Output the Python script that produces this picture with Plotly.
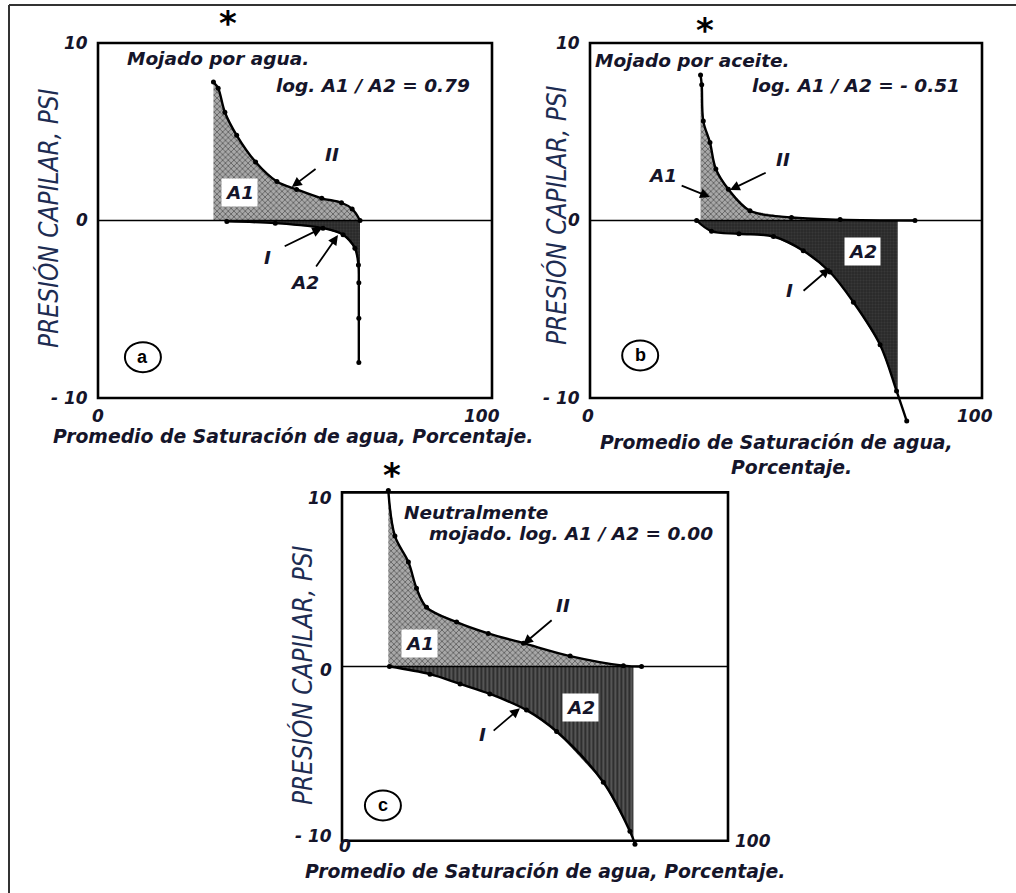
import numpy as np
import plotly.graph_objects as go

W, H = 1016, 893

# ---------------- data ----------------
# Panel a: Mojado por agua
a_II_x = [29.3, 30.5, 32.2, 35.2, 40.0, 45.4, 50.4, 56.8, 61.8, 64.5, 66.5]
a_II_y = [7.8, 7.45, 6.1, 4.8, 3.3, 2.2, 1.75, 1.25, 1.0, 0.65, 0.0]
a_I_x = [32.7, 45.0, 57.1, 62.2, 65.2, 66.1, 66.2, 66.2, 66.2]
a_I_y = [-0.05, -0.15, -0.43, -0.8, -1.56, -2.5, -3.5, -5.5, -8.0]
a_A2_edge = 66.5

# Panel b: Mojado por aceite
b_II_x = [28.2, 28.5, 28.9, 30.6, 32.1, 35.3, 40.8, 51.4, 63.8, 82.9]
b_II_y = [8.2, 7.65, 5.6, 4.4, 2.9, 1.76, 0.55, 0.17, 0.05, 0.0]
b_I_x = [27.2, 31.0, 38.0, 46.8, 54.4, 61.2, 67.2, 74.0, 78.2, 80.8]
b_I_y = [0.0, -0.6, -0.75, -0.9, -1.7, -2.9, -4.6, -7.0, -9.6, -11.3]
b_A2_edge = 78.5

# Panel c: Neutralmente mojado
c_II_x = [12.0, 13.7, 17.2, 19.3, 21.9, 29.7, 37.9, 47.0, 59.1, 72.9, 77.6]
c_II_y = [10.1, 7.5, 6.0, 4.5, 3.4, 2.55, 1.9, 1.34, 0.6, 0.05, 0.0]
c_I_x = [12.3, 22.8, 30.6, 38.3, 47.8, 55.6, 67.7, 74.6, 75.9]
c_I_y = [0.0, -0.44, -1.0, -1.57, -2.5, -3.73, -6.64, -9.46, -10.2]
c_A2_edge = 75.5

y_tick_text = ["10", "0", "- 10"]
x_tick_text = ["0", "100"]

titles = {
    "a": ["Mojado por agua.", "log. A1 / A2 = 0.79"],
    "b": ["Mojado por aceite.", "log. A1 / A2 = - 0.51"],
    "c": ["Neutralmente", "mojado. log. A1 / A2 = 0.00"],
}
x_title_a = "Promedio de Saturación de agua, Porcentaje."
x_title_b1 = "Promedio de Saturación de agua,"
x_title_b2 = "Porcentaje."
x_title_c = "Promedio de Saturación de agua, Porcentaje."
y_title = "PRESIÓN CAPILAR, PSI"

# ---------------- layout helpers ----------------
TXT = "#15152a"
YT_COL = "#1d2c52"
BOLD = dict(family="DejaVu Sans", size=18.5, color=TXT, weight="bold", style="italic")
XTF = dict(family="DejaVu Sans", size=18.8, color=TXT, weight="bold", style="italic")

PANELS = {
    "a": dict(px0=98, px100=492, py10=43, pym10=398, ax="x", ay="y", xr=[-10, 108]),
    "b": dict(px0=590, px100=982, py10=43, pym10=398, ax="x2", ay="y2", xr=[-6, 108]),
    "c": dict(px0=342, px100=728, py10=493, pym10=848, ax="x3", ay="y3", xr=[-10, 112]),
}
YR = [-13, 12]


def domains(p):
    XR = p["xr"]
    sx = (p["px100"] - p["px0"]) / 100
    sy = (p["pym10"] - p["py10"]) / 20
    xl = p["px0"] + XR[0] * sx
    xr = p["px0"] + XR[1] * sx
    yt = p["py10"] + (10 - YR[1]) * sy
    yb = p["py10"] + (10 - YR[0]) * sy
    return [max(0, xl / W), min(1, xr / W)], [max(0, 1 - yb / H), min(1, 1 - yt / H)]


fig = go.Figure()
shapes = []
annotations = []

A1_PAT = dict(shape="x", size=4, solidity=0.4, fgcolor="#1a1a1a", bgcolor="#a8a8a8")
A2_PAT = dict(shape=".", size=3, solidity=0.5, fgcolor="#000000", bgcolor="#404040")
A2_PAT_C = dict(shape="|", size=4, solidity=0.45, fgcolor="#000000", bgcolor="#555555")

curves = {
    "a": (a_II_x, a_II_y, a_I_x, a_I_y, a_A2_edge, A2_PAT),
    "b": (b_II_x, b_II_y, b_I_x, b_I_y, b_A2_edge, A2_PAT),
    "c": (c_II_x, c_II_y, c_I_x, c_I_y, c_A2_edge, A2_PAT_C),
}

for key, (IIx, IIy, Ix, Iy, edge, a2pat) in curves.items():
    p = PANELS[key]
    xa, ya = p["ax"], p["ay"]
    # A1 area: under curve II down to zero
    a1x = list(IIx) + [IIx[-1], IIx[0]]
    a1y = list(IIy) + [0, 0]
    fig.add_trace(go.Scatter(x=a1x, y=a1y, fill="toself", mode="none",
                             fillpattern=A1_PAT, fillcolor="#a8a8a8",
                             xaxis=xa, yaxis=ya, hoverinfo="skip", showlegend=False))
    # A2 area: between zero and curve I up to the edge
    xs = [x for x in Ix if x < edge]
    ys = list(Iy[:len(xs)])
    ye = float(np.interp(edge, Ix, Iy))
    a2x = [xs[0]] + xs + [edge, edge]
    a2y = [0] + ys + [ye, 0]
    fig.add_trace(go.Scatter(x=a2x, y=a2y, fill="toself", mode="none",
                             fillpattern=a2pat, fillcolor="#404040",
                             xaxis=xa, yaxis=ya, hoverinfo="skip", showlegend=False))
    # curves
    for cx, cy in ((IIx, IIy), (Ix, Iy)):
        fig.add_trace(go.Scatter(x=cx, y=cy, mode="lines+markers",
                                 line=dict(color="black", width=2.4, shape="spline", smoothing=1.0),
                                 marker=dict(color="black", size=5),
                                 cliponaxis=False,
                                 xaxis=xa, yaxis=ya, hoverinfo="skip", showlegend=False))

    # frame and zero line
    shapes.append(dict(type="rect", xref=xa, yref=ya, x0=0, x1=100, y0=-10, y1=10,
                       line=dict(color="black", width=2.6), layer="above"))
    shapes.append(dict(type="line", xref=xa, yref=ya, x0=0, x1=100, y0=0, y1=0,
                       line=dict(color="black", width=1.6), layer="above"))

# axes
layout_axes = {}
for i, key in enumerate(["a", "b", "c"]):
    dx, dy = domains(PANELS[key])
    sfx = "" if i == 0 else str(i + 1)
    layout_axes["xaxis" + sfx] = dict(domain=dx, range=PANELS[key]["xr"], visible=False, anchor="y" + sfx)
    layout_axes["yaxis" + sfx] = dict(domain=dy, range=YR, visible=False, anchor="x" + sfx)


def ann(xref, yref, x, y, text, xanchor="center", yanchor="middle", font=None, **kw):
    d = dict(xref=xref, yref=yref, x=x, y=y, text=text, showarrow=False,
             xanchor=xanchor, yanchor=yanchor, font=font or BOLD)
    d.update(kw)
    annotations.append(d)


def arrow(xref, yref, tail, head):
    annotations.append(dict(xref=xref, yref=yref, axref=xref, ayref=yref,
                            x=head[0], y=head[1], ax=tail[0], ay=tail[1], text="",
                            showarrow=True, arrowhead=2, arrowsize=1.1, arrowwidth=1.8,
                            arrowcolor="black", standoff=0))


TICKF = dict(family="DejaVu Sans", size=17, color=TXT, weight="bold", style="italic")
STAR = dict(family="DejaVu Sans", size=34, color="black", weight="bold")
LETTER = dict(family="Liberation Sans", size=18, color="black", weight="bold")
YTF = dict(family="Liberation Sans Narrow, DejaVu Sans Condensed, Liberation Sans",
           size=26, color=YT_COL, style="italic")

# per-panel text placement
place = {
    "a": dict(ytx=-2.0, yty=[10, 0, -10], xt=[(0, -11.0), (97.5, -11.0)],
              star=(33, 11.1), t1=(6.9, 9.1, "left"), t2=(94.9, 7.6, "right"),
              circle=(11.4, -7.7),
              labels=[("A1", 36.0, 1.6, True), ("II", 59.4, 3.7, False),
                      ("I", 43.1, -2.1, False), ("A2", 52.5, -3.5, False)],
              arrows=[((55.6, 2.96), (49.2, 1.89)), ((47.0, -1.49), (56.9, -0.42)),
                      ((55.1, -2.68), (60.9, -0.82))],
              ytitle=(48, 218)),
    "b": dict(ytx=-2.0, yty=[10, 0, -10], xt=[(-0.5, -11.0), (98.2, -11.0)],
              star=(29.3, 10.75), t1=(0.8, 9.0, "left"), t2=(94.9, 7.6, "right"),
              circle=(12.8, -7.6),
              labels=[("A1", 18.4, 2.56, False), ("II", 49.2, 3.41, False),
                      ("A2", 69.6, -1.72, True), ("I", 51.0, -3.92, False)],
              arrows=[((23.0, 2.0), (30.6, 1.32)), ((45.2, 2.73), (35.7, 1.72)),
                      ((54.1, -4.03), (61.2, -2.68))],
              ytitle=(557, 215)),
    "c": dict(ytx=-2.0, yty=[9.7, -0.2, -9.7], xt=[(0.8, -10.3), (106.5, -10.0)],
              star=(13.0, 11.0), t1=(15.5, 8.87, "left"), t2=(96.6, 7.63, "right"),
              circle=(10.6, -7.97),
              labels=[("A1", 20.2, 1.32, True), ("II", 57.3, 3.52, False),
                      ("A2", 61.7, -2.34, True), ("I", 36.3, -3.92, False)],
              arrows=[((54.7, 2.73), (46.9, 1.27)), ((38.9, -3.75), (46.1, -2.39))],
              ytitle=(302, 675)),
}

for key in ["a", "b", "c"]:
    p = PANELS[key]
    xa, ya = p["ax"], p["ay"]
    pl = place[key]
    for yv, txt in zip(pl["yty"], y_tick_text):
        ann(xa, ya, pl["ytx"], yv, txt, xanchor="right", font=TICKF)
    for (xv, yv), txt in zip(pl["xt"], x_tick_text):
        ann(xa, ya, xv, yv, txt, font=TICKF)
    ann(xa, ya, pl["star"][0], pl["star"][1], "*", font=STAR)
    ann(xa, ya, pl["t1"][0], pl["t1"][1], titles[key][0], xanchor=pl["t1"][2])
    ann(xa, ya, pl["t2"][0], pl["t2"][1], titles[key][1], xanchor=pl["t2"][2])
    for txt, xv, yv, boxed in pl["labels"]:
        if boxed:
            ann(xa, ya, xv, yv, txt, bgcolor="white", borderpad=3)
        else:
            ann(xa, ya, xv, yv, txt)
    for tail, head in pl["arrows"]:
        arrow(xa, ya, tail, head)
    cx, cy = pl["circle"]
    shapes.append(dict(type="circle", xref=xa, yref=ya, xsizemode="pixel", ysizemode="pixel",
                       xanchor=cx, yanchor=cy, x0=-18, x1=18, y0=-15, y1=15,
                       line=dict(color="black", width=2)))
    ann(xa, ya, cx, cy, key, font=LETTER)
    ytx, yty = pl["ytitle"]
    ann("paper", "paper", ytx / W, 1 - yty / H, y_title, font=YTF, textangle=-90)

# x axis titles
ann("paper", "paper", 51 / W, 1 - 437 / H, x_title_a, xanchor="left", font=XTF)
ann("paper", "paper", 598 / W, 1 - 442 / H, x_title_b1, xanchor="left", font=XTF)
ann("paper", "paper", 791 / W, 1 - 467 / H, x_title_b2, font=XTF)
ann("paper", "paper", 303 / W, 1 - 871 / H, x_title_c, xanchor="left", font=XTF)

# outer border (top and left)
shapes.append(dict(type="line", xref="paper", yref="paper", x0=9 / W, x1=1.0, y0=1 - 5 / H, y1=1 - 5 / H,
                   line=dict(color="#333333", width=2)))
shapes.append(dict(type="line", xref="paper", yref="paper", x0=9 / W, x1=9 / W, y0=0, y1=1 - 5 / H,
                   line=dict(color="#333333", width=2)))

fig.update_layout(width=W, height=H, margin=dict(l=0, r=0, t=0, b=0),
                  paper_bgcolor="white", plot_bgcolor="rgba(0,0,0,0)",
                  shapes=shapes, annotations=annotations, **layout_axes)

fig.write_html("out.html", config={"displayModeBar": False},
               post_script="document.body.style.margin='0px';")
